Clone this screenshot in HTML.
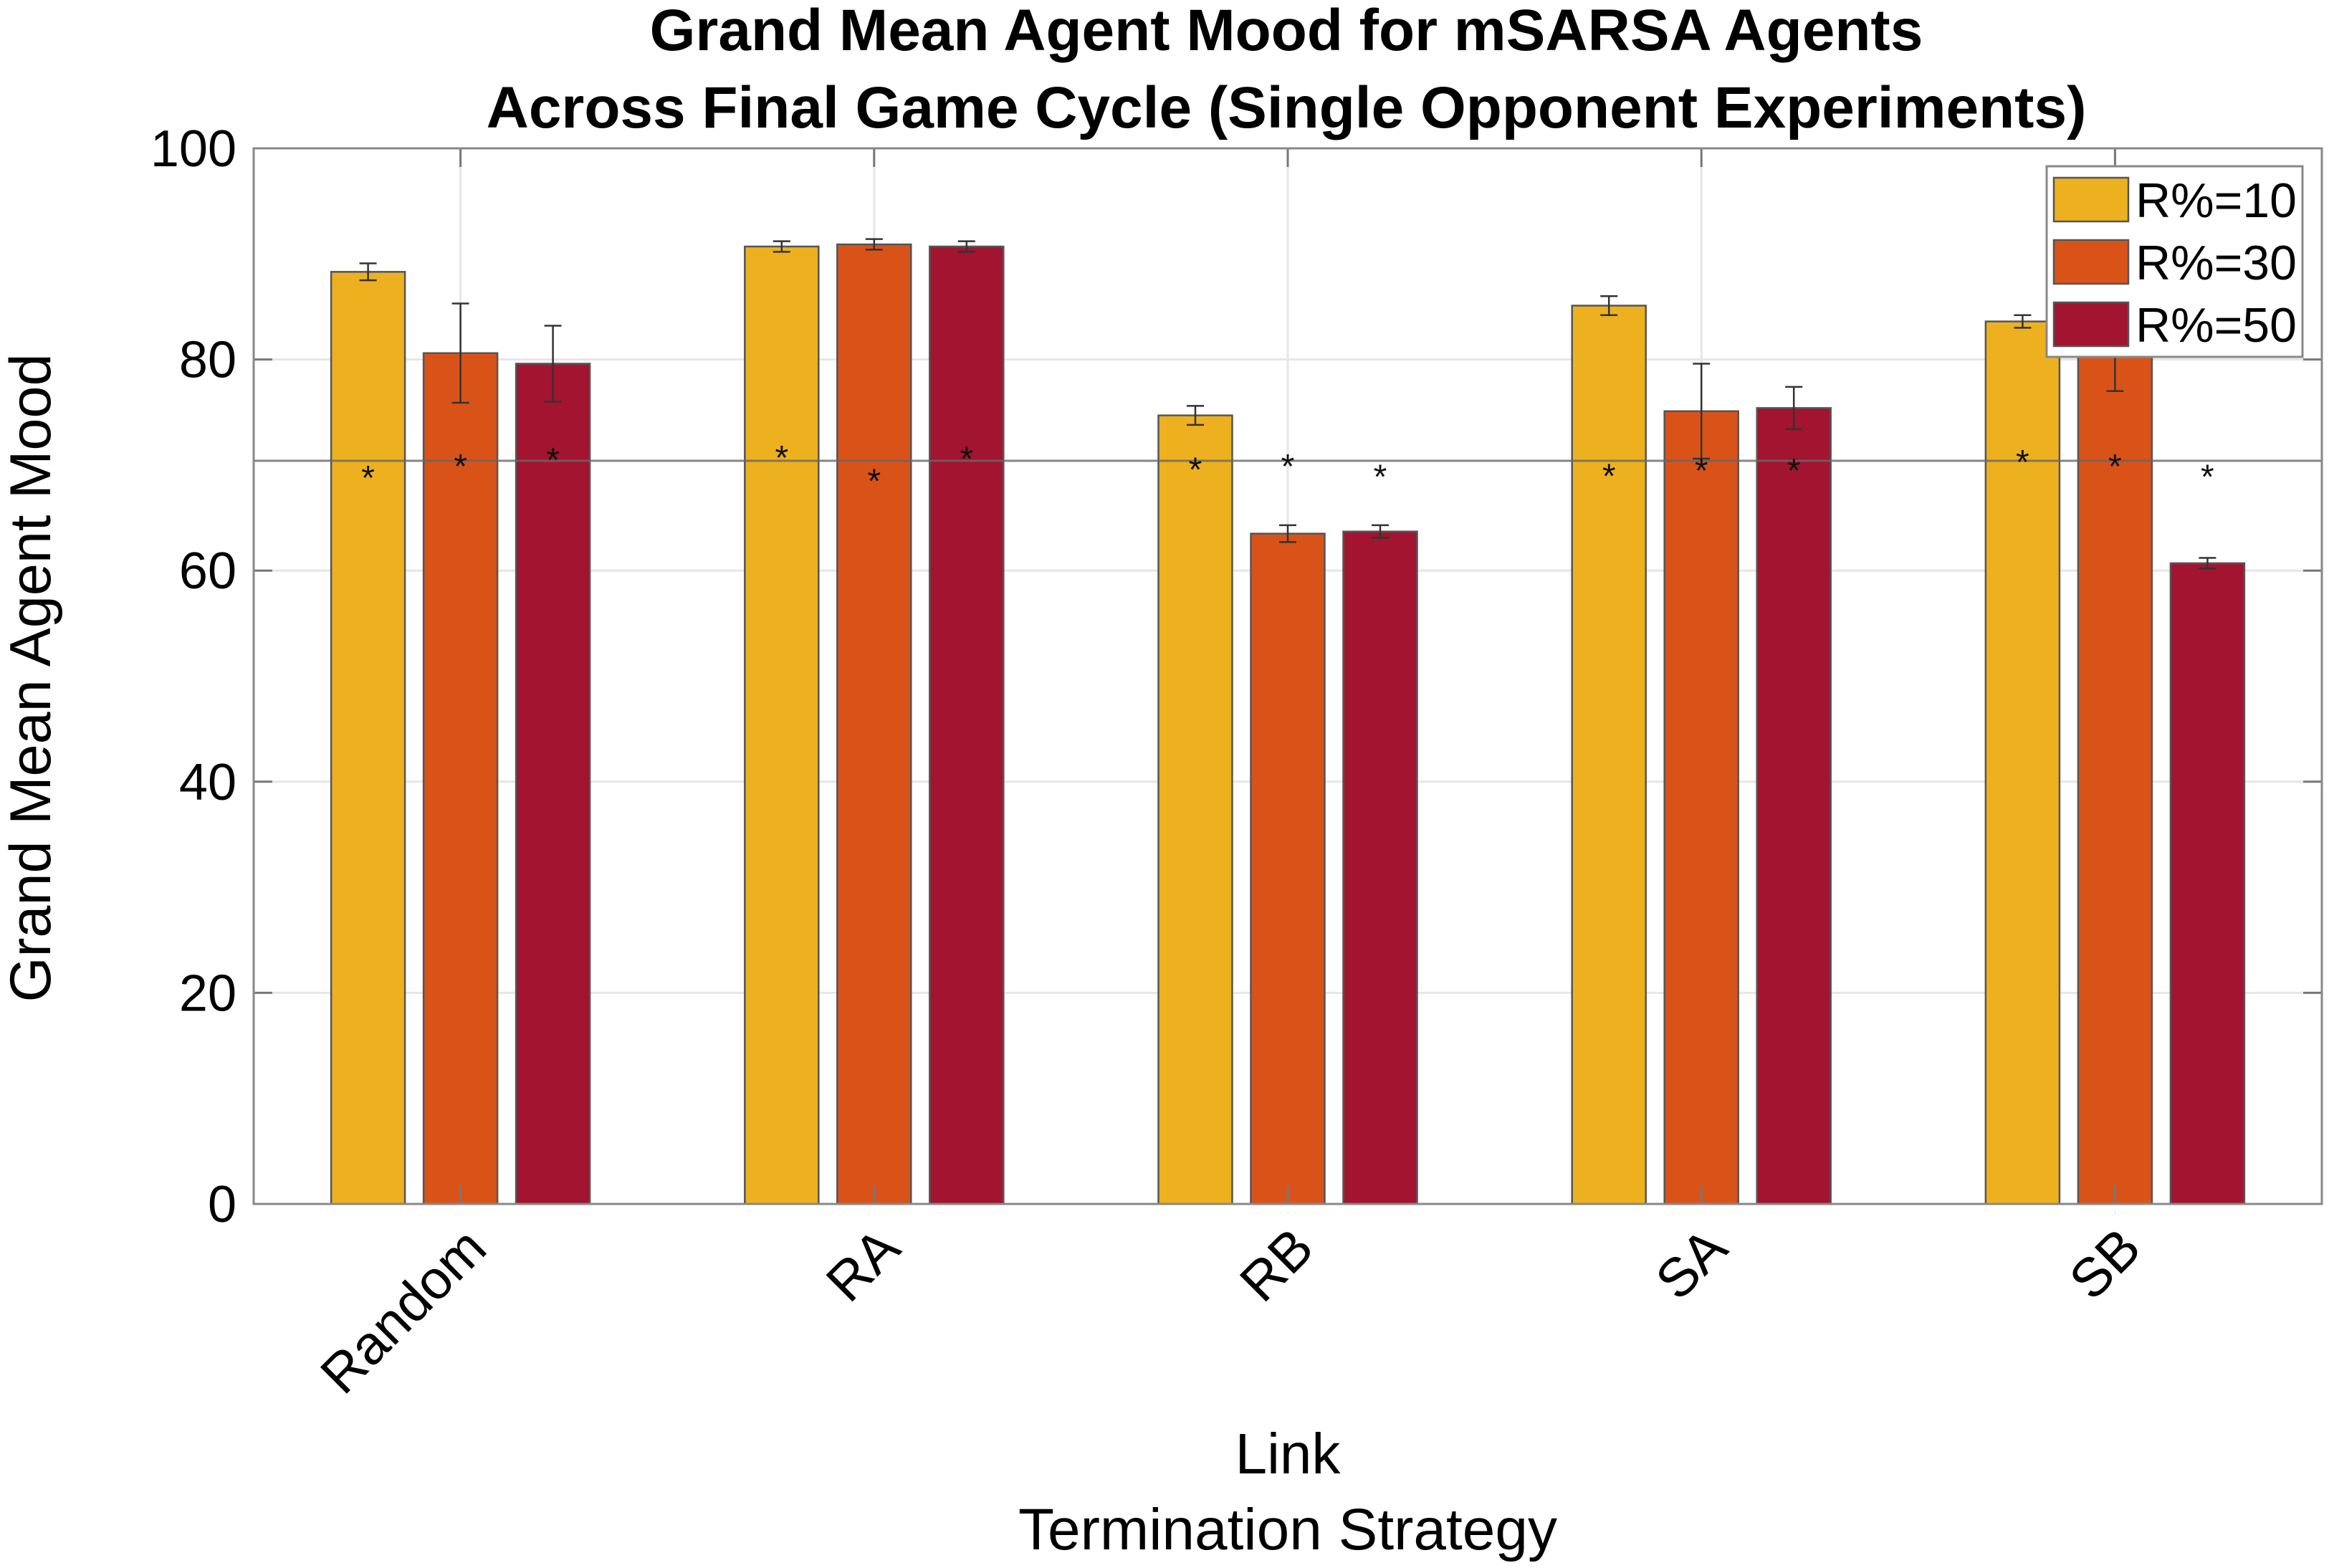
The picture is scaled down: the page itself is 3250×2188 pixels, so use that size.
<!DOCTYPE html>
<html><head><meta charset="utf-8"><style>
html,body{margin:0;padding:0;background:#fff;}
svg{display:block;font-family:"Liberation Sans",Arial,sans-serif;}
</style></head><body>
<svg id="chart" width="3250" height="2188" viewBox="0 0 3250 2188">
<text x="1795" y="70" text-anchor="middle" font-size="82" font-weight="bold">Grand Mean Agent Mood for mSARSA Agents</text>
<text x="1795" y="178" text-anchor="middle" font-size="82" font-weight="bold">Across Final Game Cycle (Single Opponent Experiments)</text>
<g id="grid"></g>
<g id="bars"></g>
<g id="axes"></g>
<text transform="translate(70,946) rotate(-90)" text-anchor="middle" font-size="81">Grand Mean Agent Mood</text>
<text x="1797" y="2056" text-anchor="middle" font-size="80">Link</text>
<text x="1797" y="2162" text-anchor="middle" font-size="82">Termination Strategy</text>
<g id="legend"></g>
</svg>
<script>
const categories = ["Random","RA","RB","SA","SB"];
const seriesNames = ["R%=10","R%=30","R%=50"];
const r10 = [88.3, 90.7, 74.7, 85.1, 83.6];
const r30 = [80.6, 90.9, 63.5, 75.1, 81.5];
const r50 = [79.6, 90.7, 63.7, 75.4, 60.7];
const err10 = [0.8, 0.5, 0.9, 0.9, 0.6];
const err30 = [4.7, 0.5, 0.8, 4.5, 4.5];
const err50 = [3.6, 0.5, 0.6, 2.0, 0.5];
const star10 = [69.3, 71.2, 70.1, 69.5, 70.8];
const star30 = [70.4, 69.0, 70.4, 70.0, 70.4];
const star50 = [71.0, 71.1, 69.4, 70.0, 69.4];
const refLine = 70.4;
const yTicks = [0,20,40,60,80,100];

const NS="http://www.w3.org/2000/svg";
const L=354,R=3240,T=207,B=1680;
const colors=["#EDB120","#D95319","#A2142F"];
function y(v){return B-(v/100)*(B-T);}
function xc(i){return L+(i+0.5)*(R-L)/categories.length;}
function mk(tag,attrs,parent){const e=document.createElementNS(NS,tag);for(const k in attrs)e.setAttribute(k,attrs[k]);parent.appendChild(e);return e;}
const grid=document.getElementById('grid'),bars=document.getElementById('bars'),axes=document.getElementById('axes'),legend=document.getElementById('legend');
yTicks.forEach(t=>{
  const g=mk('line',{x1:L,x2:R,y1:y(t),y2:y(t),stroke:'#e6e6e6','stroke-width':3},grid);
  
  
  const tk=mk('text',{x:L-24,y:y(t)+25,'text-anchor':'end','font-size':72},axes);
  tk.textContent=t;
  
  
  [[L,L+26],[R-26,R]].forEach(p=>mk('line',{x1:p[0],x2:p[1],y1:y(t),y2:y(t),stroke:'#777','stroke-width':3},axes));
});
categories.forEach((c,i)=>{
  const g=mk('line',{x1:xc(i),x2:xc(i),y1:T,y2:B,stroke:'#e6e6e6','stroke-width':3},grid);
  
  
  mk('line',{x1:xc(i),x2:xc(i),y1:T,y2:T+26,stroke:'#777','stroke-width':3},axes);
  mk('line',{x1:xc(i),x2:xc(i),y1:B-26,y2:B,stroke:'#777','stroke-width':3},axes);
  const lb=mk('text',{x:0,y:0,'text-anchor':'end','font-size':76,transform:`translate(${xc(i)+40},${B+66}) rotate(-45)`},axes);
  lb.textContent=c;
  
  
});
const vals=[r10,r30,r50],errs=[err10,err30,err50],stars=[star10,star30,star50];
const off=[-129,0,129],bw=103;
categories.forEach((c,i)=>{
  for(let s=0;s<3;s++){
    const cx=xc(i)+off[s],v=vals[s][i];
    const b=mk('rect',{x:cx-bw/2,y:y(v),width:bw,height:B-y(v),fill:colors[s],stroke:'#555','stroke-width':2.5},bars);
    
    
    const e=errs[s][i];
    mk('line',{x1:cx,x2:cx,y1:y(v+e),y2:y(v-e),stroke:'#333','stroke-width':2.5},bars);
    mk('line',{x1:cx-12,x2:cx+12,y1:y(v+e),y2:y(v+e),stroke:'#333','stroke-width':2.5},bars);
    mk('line',{x1:cx-12,x2:cx+12,y1:y(v-e),y2:y(v-e),stroke:'#333','stroke-width':2.5},bars);
  }
});
const rl=mk('line',{x1:L,x2:R,y1:y(refLine),y2:y(refLine),stroke:'#666','stroke-opacity':0.8,'stroke-width':3},bars);


categories.forEach((c,i)=>{
  for(let s=0;s<3;s++){
    const cx=xc(i)+off[s],sy=y(stars[s][i]);
    const st=mk('text',{x:cx,y:sy+24,'text-anchor':'middle','font-size':48,fill:'#111'},bars);
    st.textContent='*';
    
    
  }
});
mk('rect',{x:L,y:T,width:R-L,height:B-T,fill:'none',stroke:'#888','stroke-width':3},axes);
mk('rect',{x:2856,y:232,width:357,height:266,fill:'#fff',stroke:'#888','stroke-width':3},legend);
seriesNames.forEach((n,s)=>{
  const yy=248+s*87;
  const sw=mk('rect',{x:2866,y:yy,width:104,height:61,fill:colors[s],stroke:'#555','stroke-width':2.5},legend);
  
  
  const t=mk('text',{x:2980,y:yy+55,'font-size':68},legend);
  t.textContent=n;
  
  
});
</script>
</body></html>
